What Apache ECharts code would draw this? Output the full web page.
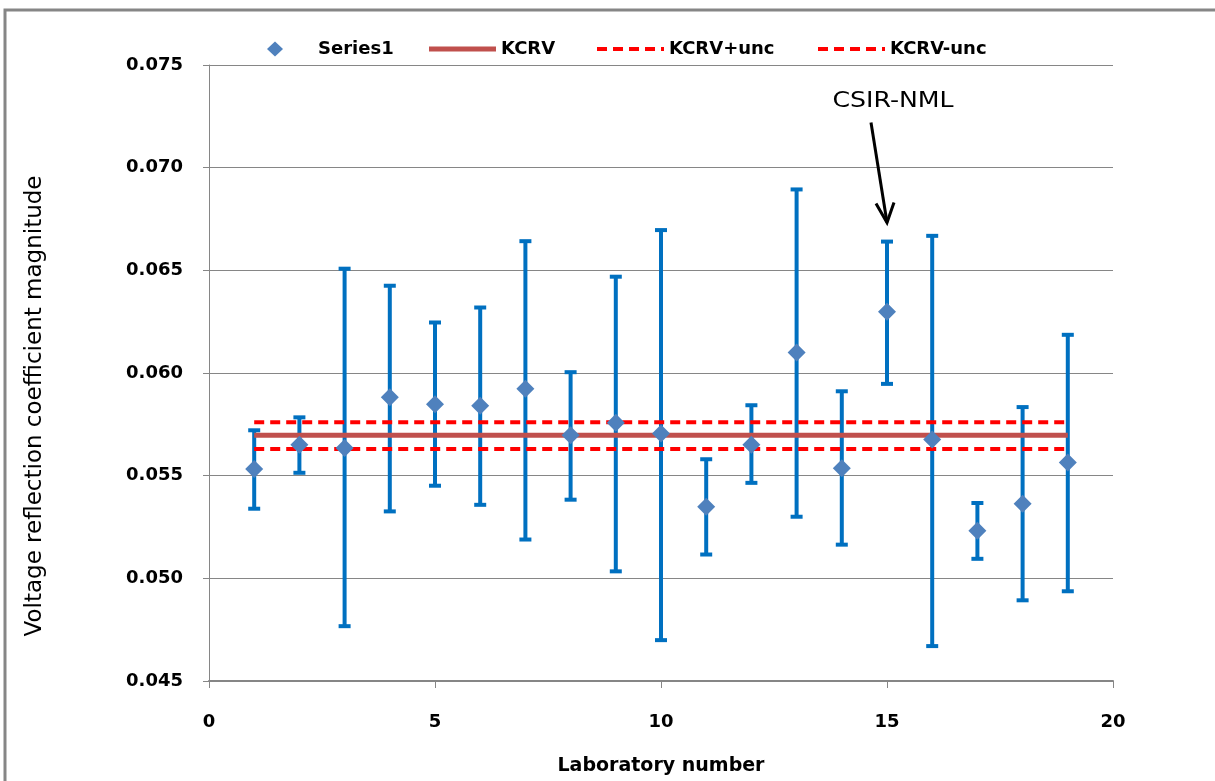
<!DOCTYPE html>
<html>
<head>
<meta charset="utf-8">
<script src="https://cdn.jsdelivr.net/npm/echarts@6/dist/echarts.min.js"></script>
<style>
html,body{margin:0;padding:0;background:#fff;}
#chart{width:1215px;height:781px;}
</style>
</head>
<body>
<div id="chart"></div>
<script>
// ---- data ----
const labs = [1,2,3,4,5,6,7,8,9,10,11,12,13,14,15,16,17,18,19];
const values = [0.05532,0.05651,0.05635,0.05882,0.05848,0.05841,0.05923,0.05697,0.05758,0.05705,
                0.05349,0.05651,0.06100,0.05536,0.06298,0.05676,0.05232,0.05363,0.05564];
const lows   = [0.05339,0.05514,0.04767,0.05326,0.05451,0.05358,0.05189,0.05383,0.05034,0.04699,
                0.05116,0.05465,0.05300,0.05164,0.05947,0.04670,0.05095,0.04893,0.04937];
const highs  = [0.05721,0.05784,0.06508,0.06425,0.06246,0.06319,0.06642,0.06004,0.06469,0.06696,
                0.05580,0.05843,0.06894,0.05911,0.06640,0.06668,0.05367,0.05834,0.06186];
const kcrv = 0.05697;
const kcrvPlus = 0.05760;
const kcrvMinus = 0.05630;
const seriesNames = ['Series1','KCRV','KCRV+unc','KCRV-unc'];
const annotationText = 'CSIR-NML';
const annotationLab = 15;
const xTitle = 'Laboratory number';
const yTitle = 'Voltage reflection coefficient magnitude';

// ---- build ----
const pts = labs.map((l,i)=>[l, values[i]]);
const bars = labs.map((l,i)=>[l, lows[i], highs[i]]);
const xFirst = labs[0], xLast = labs[labs.length-1];
const annIdx = labs.indexOf(annotationLab);

const BOLD = {fontFamily:'DejaVu Sans', fontWeight:'bold', fontSize:18, color:'#000'};
const SOLID_ICON = 'path://M0,0H67V5H0Z';
const DASH_ICON = 'path://M0,0h10v4h-10zM16,0h10v4h-10zM32,0h10v4h-10zM48,0h10v4h-10zM64,0h3v4h-3z';
const chart = echarts.init(document.getElementById('chart'), null, {renderer:'canvas'});

function legendAt(name, left, icon, h){
  return {
    data:[{name:name, icon:icon}], left:left, top:40, padding:0, itemWidth:67, itemHeight:h,
    textStyle:Object.assign({}, BOLD), selectedMode:false
  };
}

chart.setOption({
  animation:false,
  backgroundColor:'#fff',
  graphic:[
    {type:'polyline', shape:{points:[[5,900],[5,10],[1400,10]]}, style:{fill:'none', stroke:'#868686', lineWidth:3}, silent:true, z:-10},
    {type:'text', x:35, y:406, rotation:Math.PI/2, silent:true,
     style:{text:yTitle, fontFamily:'DejaVu Sans', fontSize:23, fill:'#000', align:'center', verticalAlign:'middle'}}
  ],
  legend:[
    {data:[{name:seriesNames[0], icon:'diamond'}], left:267, top:40, padding:0, itemWidth:16, itemHeight:15,
      selectedMode:false, textStyle:Object.assign({padding:[0,0,0,30]}, BOLD)},
    legendAt(seriesNames[1], 429, SOLID_ICON, 5),
    legendAt(seriesNames[2], 597, DASH_ICON, 4),
    legendAt(seriesNames[3], 818, DASH_ICON, 4)
  ],
  grid:{left:209, right:102, top:65, bottom:98, containLabel:false},
  xAxis:{
    type:'value', min:0, max:20, interval:5,
    name:xTitle, nameLocation:'middle', nameGap:76,
    nameTextStyle:{fontFamily:'DejaVu Sans', fontWeight:'bold', fontSize:19, color:'#000'},
    axisLine:{show:true, onZero:false, lineStyle:{color:'#868686', width:2}},
    axisTick:{show:true, length:7, lineStyle:{color:'#868686', width:1}},
    axisLabel:Object.assign({margin:32}, BOLD),
    splitLine:{show:false}
  },
  yAxis:{
    type:'value', min:0.045, max:0.075, interval:0.005,
    axisLine:{show:true, lineStyle:{color:'#868686', width:1}},
    axisTick:{show:true, length:6, lineStyle:{color:'#868686', width:1}},
    axisLabel:Object.assign({margin:26, formatter:v=>v.toFixed(3)}, BOLD),
    splitLine:{show:true, lineStyle:{color:'#868686', width:1}}
  },
  series:[
    {
      type:'custom', name:'errorbars', z:2, silent:true,
      data:bars,
      renderItem:function(params, api){
        const x = api.value(0);
        const pHi = api.coord([x, api.value(2)]);
        const pLo = api.coord([x, api.value(1)]);
        const st = {stroke:'#0070C0', lineWidth:4};
        return {type:'group', children:[
          {type:'line', shape:{x1:pHi[0], y1:pHi[1], x2:pLo[0], y2:pLo[1]}, style:st},
          {type:'line', shape:{x1:pHi[0]-6, y1:pHi[1], x2:pHi[0]+6, y2:pHi[1]}, style:st},
          {type:'line', shape:{x1:pLo[0]-6, y1:pLo[1], x2:pLo[0]+6, y2:pLo[1]}, style:st}
        ]};
      }
    },
    {
      type:'line', name:seriesNames[1], z:3, symbol:'none', silent:true,
      data:[[xFirst,kcrv],[xLast,kcrv]],
      lineStyle:{color:'#C0504D', width:5}, itemStyle:{color:'#C0504D'}
    },
    {
      type:'line', name:seriesNames[2], z:3, symbol:'none', silent:true,
      data:[[xFirst,kcrvPlus],[xLast,kcrvPlus]],
      lineStyle:{color:'#FF0000', width:4, type:[10,6]}, itemStyle:{color:'#FF0000'}
    },
    {
      type:'line', name:seriesNames[3], z:3, symbol:'none', silent:true,
      data:[[xFirst,kcrvMinus],[xLast,kcrvMinus]],
      lineStyle:{color:'#FF0000', width:4, type:[10,6]}, itemStyle:{color:'#FF0000'}
    },
    {
      type:'scatter', name:seriesNames[0], z:5, silent:true,
      symbol:'diamond', symbolSize:18,
      data:pts, itemStyle:{color:'#4F81BD', opacity:1}
    },
    {
      type:'custom', name:'annotation', z:6, silent:true,
      data:[[annotationLab, highs[annIdx]]],
      renderItem:function(params, api){
        const p = api.coord([api.value(0), api.value(1)]);
        const tx = p[0], ty = p[1]-19;
        const st = {stroke:'#000', lineWidth:3, fill:'none'};
        return {type:'group', children:[
          {type:'line', shape:{x1:tx-16, y1:ty-100, x2:tx, y2:ty}, style:st},
          {type:'polyline', shape:{points:[[tx-11,ty-19],[tx,ty],[tx+7,ty-20]]}, style:st},
          {type:'text', x:tx+6, y:ty-121, scaleX:1.2, style:{text:annotationText, fontFamily:'DejaVu Sans', fontSize:21, fill:'#000', align:'center', verticalAlign:'middle'}}
        ]};
      }
    }
  ]
});
</script>
</body>
</html>
